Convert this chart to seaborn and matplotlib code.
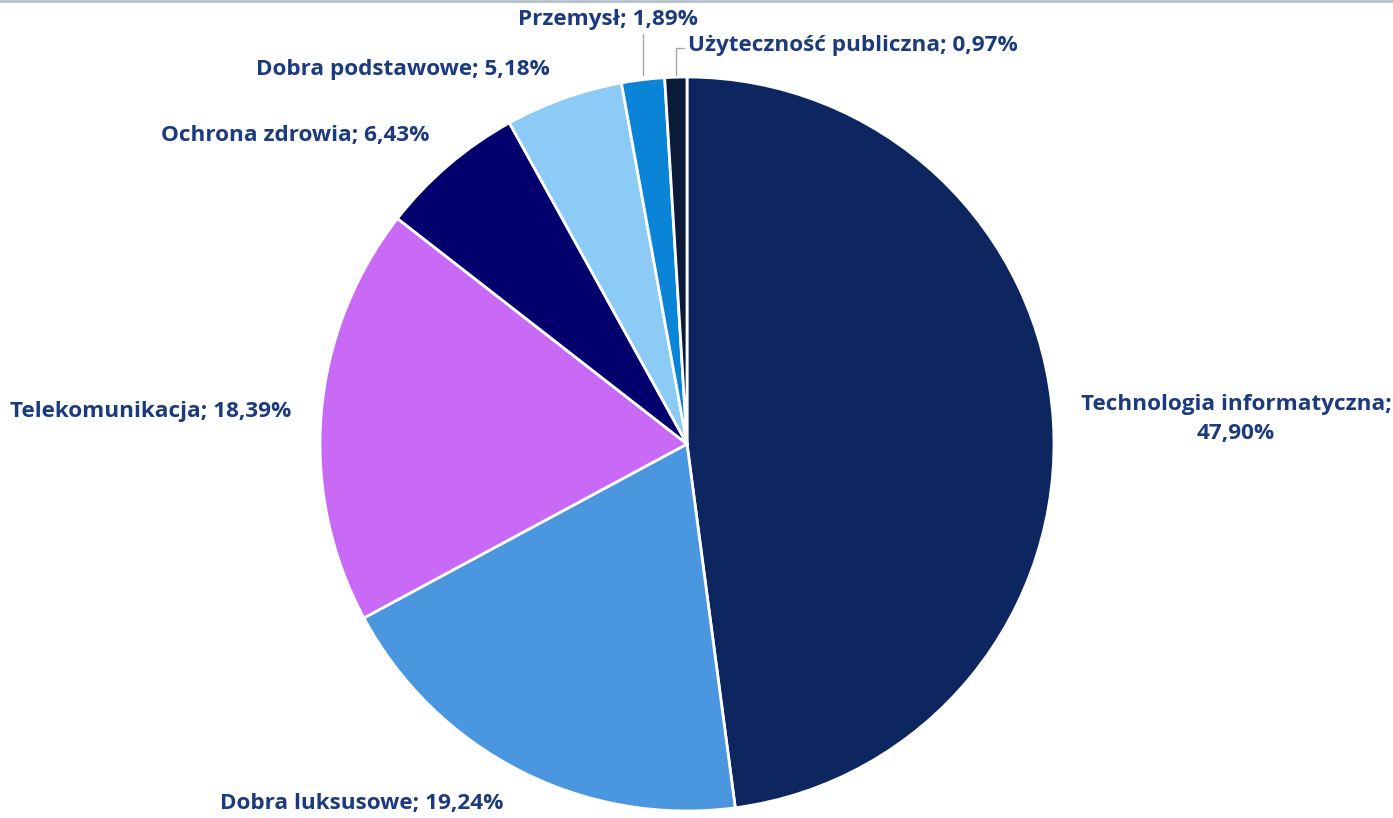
import numpy as np
import matplotlib
matplotlib.use("Agg")
import matplotlib.pyplot as plt
import seaborn as sns

# dane
sectors = ["Technologia informatyczna", "Dobra luksusowe", "Telekomunikacja",
           "Ochrona zdrowia", "Dobra podstawowe", "Przemysł", "Użyteczność publiczna"]
shares = [47.90, 19.24, 18.39, 6.43, 5.18, 1.89, 0.97]
colors = ["#0D2660", "#4A97DF", "#C86AF5", "#03006E", "#8CCBF5", "#0A84D6", "#0B1A38"]

sns.set_theme(style="white")
plt.rcParams['font.family'] = ['Open Sans', 'DejaVu Sans']

W, H = 1393, 818
fig = plt.figure(figsize=(W / 100, H / 100), dpi=100)
ax = fig.add_axes([0, 0, 1, 1])

cx, cy, r = 687, H - 444, 367
ax.pie(shares, colors=colors, startangle=90, counterclock=False,
       center=(cx, cy), radius=r,
       wedgeprops=dict(edgecolor="white", linewidth=2))
ax.set_xlim(0, W)
ax.set_ylim(0, H)
ax.set_aspect("equal")
ax.axis("off")

def lab(i):
    return f"{sectors[i]}; {shares[i]:.2f}%".replace(".", ",")

txt = dict(color="#1C3A7E", fontsize=16.2, fontweight="bold", va="center")

# pozycje etykiet (px od góry)
ax.text(1236, H - 419, f"{sectors[0]};\n{shares[0]:.2f}%".replace(".", ","),
        ha="center", linespacing=1.5, **txt)
ax.text(362, H - 804, lab(1), ha="center", **txt)
ax.text(151, H - 412, lab(2), ha="center", **txt)
ax.text(295, H - 136, lab(3), ha="center", **txt)
ax.text(403, H - 69, lab(4), ha="center", **txt)
ax.text(608, H - 20, lab(5), ha="center", **txt)
ax.text(688, H - 45, lab(6), ha="left", **txt)

# linie odniesienia dla małych wycinków
cum = np.cumsum([0] + shares)
total = cum[-1]
def edge_x(i):
    mid = (cum[i] + shares[i] / 2) / total * 2 * np.pi
    return cx + r * np.sin(mid)

x5 = edge_x(5)
ax.plot([x5, x5], [cy + r + 2, H - 34], color="#A6A6A6", lw=1)
x6 = edge_x(6)
ax.plot([x6, x6, x6 + 8], [cy + r + 2, H - 48, H - 48], color="#A6A6A6", lw=1)

# cienka ramka u góry
ax.plot([0, W], [H - 1, H - 1], color="#B4C0CC", lw=2, clip_on=False)

fig.savefig("out.png", dpi=100, facecolor="white")
